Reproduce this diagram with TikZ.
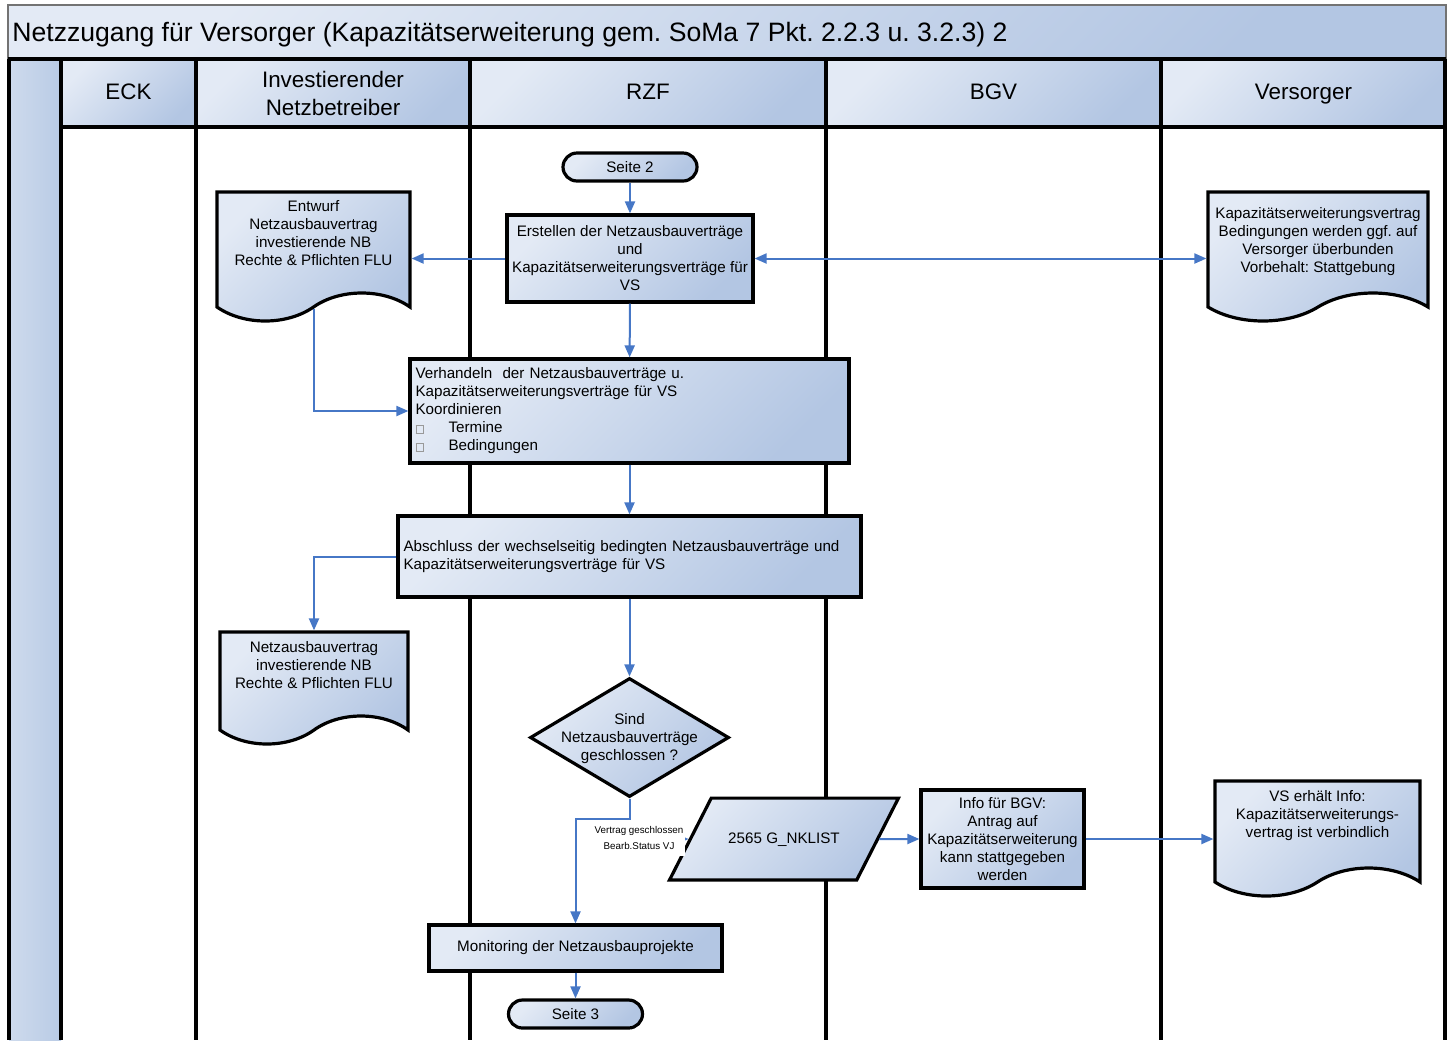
\documentclass[tikz,border=0pt]{standalone}
\usepackage{fontspec}
\setmainfont{Liberation Sans}
\usetikzlibrary{shapes.geometric,shapes.symbols,arrows.meta,positioning}

\definecolor{shadehi}{HTML}{E3EAF5}
\definecolor{shadelo}{HTML}{B3C6E3}
\definecolor{lanefill}{HTML}{B9CBE5}
\definecolor{flowblue}{HTML}{4677C6}

% text placed high in a document shape
\newcommand{\doctext}[3]{\raisebox{#1}[0pt][0pt]{\parbox{#2}{\centering #3}}}
\newcommand{\emptybox}{{\color{black!40}\setlength{\fboxsep}{0pt}\setlength{\fboxrule}{0.4pt}\fbox{\rule{0pt}{3.6pt}\hspace{3.2pt}}}}

\tikzset{
  blueshade/.style={top color=shadehi, bottom color=shadelo, shading angle=45},
  procbox/.style={rectangle, draw=black, line width=1.6pt, blueshade,
    font=\fontsize{7.6}{9}\selectfont, align=center, inner sep=1pt},
  docbox/.style={tape, tape bend top=none, tape bend height=14pt, draw=black,
    line width=1.6pt, blueshade, font=\fontsize{7.6}{9}\selectfont, inner sep=0pt},
  termbox/.style={rectangle, rounded corners=7pt, draw=black, line width=1.6pt,
    blueshade, minimum width=67pt, minimum height=14pt,
    font=\fontsize{7.6}{9}\selectfont, inner sep=0pt},
  decbox/.style={diamond, aspect=1.672, draw=black, line width=1.6pt, blueshade,
    inner sep=0pt, font=\fontsize{7.6}{9}\selectfont},
  iobox/.style={trapezium, trapezium left angle=63, trapezium right angle=117,
    draw=black, line width=1.6pt, blueshade, font=\fontsize{7.6}{9}\selectfont,
    text height=5.6pt, text depth=1.3pt, inner xsep=8.5pt, inner ysep=17pt},
  lanehead/.style={rectangle, blueshade, minimum height=33.5pt,
    font=\fontsize{11.2}{14}\selectfont, align=center, inner sep=0pt},
  laneline/.style={line width=1.8pt, black},
  flow/.style={->, draw=flowblue, line width=1pt},
  steplabel/.style={font=\fontsize{4.9}{8}\selectfont, align=center, fill=white,
    inner xsep=1pt, inner ysep=3pt},
}

\begin{document}
\frenchspacing
\begin{tikzpicture}[x=0.5pt, y=-0.5pt, >={Triangle[length=6pt,width=5pt]}]
  \useasboundingbox (0,0) rectangle (1455,1040);

  % pool and lanes
  \shade[blueshade, draw=black!55, line width=0.6pt] (8,5) rectangle (1446,58);
  \node[anchor=base west, inner sep=0pt, font=\fontsize{13.3}{16}\selectfont] (title) at (12,41)
    {Netzzugang für Versorger (Kapazitätserweiterung gem. SoMa 7 Pkt. 2.2.3 u. 3.2.3) 2};
  \shade[left color=shadehi!50!lanefill, right color=lanefill] (9,59) rectangle (61,1040);
  \node[lanehead, minimum width=67.5pt] (eck) at (128.5,93.5) {ECK\strut};
  \node[lanehead, minimum width=137pt] (invnb) at (333,93.5) {Investierender\\Netzbetreiber};
  \node[lanehead, minimum width=178pt] (rzf) at (648,93.5) {RZF\strut};
  \node[lanehead, minimum width=167.5pt] (bgv) at (993.5,93.5) {BGV\strut};
  \node[lanehead, minimum width=142.5pt] (vers) at (1303.5,93.5) {Versorger\strut};
  \foreach \x in {9,61,196,470,826,1161,1445}
    \draw[laneline] (\x,59) -- (\x,1040);
  \draw[laneline] (8,59) -- (1446,59);
  \draw[laneline] (61,127) -- (1446,127);

  % steps
  \node[termbox] (seite2) at (630,167) {Seite 2};
  \node[procbox, minimum width=123pt, minimum height=43.5pt] (erstellen) at (630,258.5)
    {Erstellen der Netzausbauverträge\\und\\Kapazitätserweiterungsverträge für\\VS};
  \node[docbox, minimum width=96.5pt, minimum height=64.5pt] (entwurf) at (313.5,242.5)
    {\doctext{2.5pt}{94pt}{Entwurf\\Netzausbauvertrag\\investierende NB\\Rechte \& Pflichten FLU}};
  \node[docbox, minimum width=110pt, minimum height=64.5pt] (kapvertrag) at (1318,242.5)
    {\doctext{-1.5pt}{108pt}{Kapazitätserweiterungsvertrag\\Bedingungen werden ggf. auf\\Versorger überbunden\\Vorbehalt: Stattgebung}};
  \node[procbox, minimum width=219.5pt, minimum height=52pt, text width=214pt,
    inner xsep=2.75pt, align=left] (verhandeln) at (629.5,411)
    {Verhandeln\ \ der Netzausbauverträge u.\\
     Kapazitätserweiterungsverträge für VS\\
     Koordinieren\\
     \makebox[16.5pt][l]{\emptybox}Termine\\
     \makebox[16.5pt][l]{\emptybox}Bedingungen};
  \node[procbox, minimum width=231.5pt, minimum height=40.5pt, text width=226pt,
    inner xsep=2.75pt, align=left] (abschluss) at (629.5,556.5)
    {Abschluss der wechselseitig bedingten Netzausbauverträge und\\
     Kapazitätserweiterungsverträge für VS};
  \node[docbox, minimum width=94pt, minimum height=56pt] (netzvertrag) at (314,674)
    {\doctext{2.25pt}{92pt}{Netzausbauvertrag\\investierende NB\\Rechte \& Pflichten FLU}};
  \node[decbox, minimum width=99.5pt, minimum height=59.5pt] (decision) at (629.5,737.5)
    {\raisebox{-2.5pt}[0pt][0pt]{\parbox{80pt}{\centering Sind\\Netzausbauverträge\\geschlossen ?}}};
  \node[iobox] (nklist) at (784,839) {2565 G\_NKLIST};
  \node[procbox, minimum width=81.5pt, minimum height=49pt] (info) at (1002.5,839)
    {Info für BGV:\\Antrag auf\\Kapazitätserweiterung\\kann stattgegeben\\werden};
  \node[docbox, minimum width=102.5pt, minimum height=57.5pt] (vsinfo) at (1317.5,824.5)
    {\doctext{2.5pt}{100pt}{VS erhält Info:\\Kapazitätserweiterungs-\\vertrag ist verbindlich}};
  \node[procbox, minimum width=146.5pt, minimum height=23pt] (monitoring) at (575.5,948)
    {Monitoring der Netzausbauprojekte};
  \node[termbox] (seite3) at (575.5,1014) {Seite 3};

  % connectors
  \draw [flow] (seite2) -- (erstellen);
  \draw [flow] (erstellen.west) -- (erstellen.west -| entwurf.east);
  \draw [flow, <->] (erstellen.east) -- (erstellen.east -| kapvertrag.west);
  \draw [flow] (erstellen) -- (verhandeln);
  \draw [flow] ([yshift=-7pt]entwurf.south) |- (verhandeln.west);
  \draw [flow] (verhandeln) -- (abschluss);
  \draw [flow] (abschluss.west) -| (netzvertrag.north);
  \draw [flow] (abschluss) -- (decision);
  \draw [flow] (decision.south) -- ++(0,20) -| (monitoring.north);
  \draw [flow] (decision.south) |- (nklist.west);
  \draw [flow] (nklist.east) -- (info.west);
  \draw [flow] (info.east) -- (info.east -| vsinfo.west);
  \draw [flow] (monitoring) -- (seite3);
  \node[steplabel] (vlabel) at (639,838) {Vertrag geschlossen\\Bearb.Status VJ};
\end{tikzpicture}
\end{document}
